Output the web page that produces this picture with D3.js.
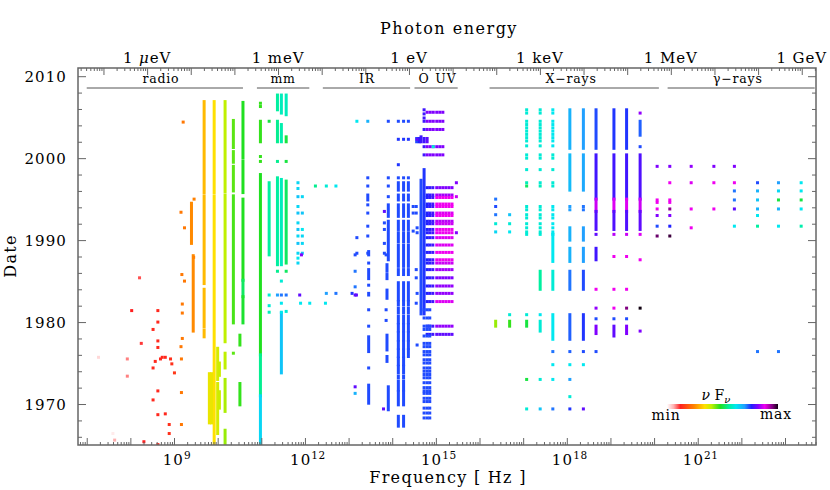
<!DOCTYPE html>
<html>
<head>
<meta charset="utf-8">
<script src="https://cdn.jsdelivr.net/npm/d3@7"></script>
<style>
  body { margin: 0; background: #fff; }
  text { font-family: "DejaVu Serif", serif; fill: #000; }
</style>
</head>
<body>
<svg id="chart" width="830" height="490"></svg>
<script>
// ---- data: [log10 frequency (Hz), year, nuFnu on the min..max colour scale] ----
// runs are densely sampled stretches: [log10 freq, first year, last year, nuFnu]

const radioPoints = [
  [9.21, 2004.4, .23], [9.46, 1995.0, .24], [9.16, 1993.4, .23], [9.24, 1991.5, .23], [9.45, 1987.9, .24],
  [9.18, 1985.8, .23], [9.24, 1985.0, .23], [9.19, 1982.2, .23], [9.19, 1981.1, .23], [9.19, 1978.0, .23],
  [9.16, 1977.0, .23], [9.17, 1975.5, .23], [9.17, 1971.4, .23], [9.17, 1967.5, .23],
  [8.21, 1985.4, .10], [8.03, 1981.4, .12], [8.63, 1981.4, .13], [8.63, 1980.0, .13], [8.52, 1979.1, .13],
  [8.25, 1977.4, .11], [8.63, 1977.7, .13], [8.63, 1976.9, .13], [7.27, 1975.7, .03], [7.93, 1975.5, .08],
  [8.73, 1975.7, .13], [8.80, 1975.7, .13], [8.69, 1975.5, .13], [8.57, 1975.2, .13], [8.92, 1975.5, .14],
  [8.95, 1974.9, .14], [8.52, 1974.4, .13], [9.01, 1973.8, .15], [7.93, 1973.4, .08], [8.63, 1971.6, .13],
  [8.52, 1970.5, .13], [8.63, 1968.7, .13], [8.80, 1968.8, .13], [8.89, 1967.5, .14], [8.89, 1966.4, .14],
  [7.64, 1965.6, .06], [8.31, 1965.4, .12], [8.63, 1965.05, .13], [7.60, 1966.4, .015],
  [10.36, 1976.2, .45]
];

const radioRuns = [
  [9.40, 1994.5, 1989.6, .25], [9.44, 1988.1, 1978.9, .25],
  [9.69, 2006.9, 1995.8, .30], [9.69, 1995.4, 1984.7, .30], [9.69, 1984.0, 1979.4, .30], [9.69, 1979.0, 1978.2, .30],
  [9.92, 2006.9, 1995.8, .34], [9.92, 1995.4, 1965.0, .34],
  [9.81, 1973.7, 1967.7, .36], [9.86, 1973.7, 1967.7, .36],
  [10.00, 1976.8, 1973.0, .38], [10.00, 1972.5, 1966.4, .38], [10.04, 1975.0, 1973.5, .39], [10.04, 1971.5, 1969.5, .39],
  [10.17, 2006.9, 1995.9, .40], [10.17, 1995.5, 1977.6, .40], [10.17, 1976.2, 1974.4, .40],
  [10.17, 1973.0, 1969.1, .41], [10.17, 1966.8, 1965.2, .42],
  [10.36, 2004.6, 2001.3, .45], [10.36, 2000.8, 1999.5, .45], [10.36, 1999.0, 1996.0, .45], [10.36, 1995.4, 1979.9, .46],
  [10.58, 2006.8, 2000.0, .48], [10.58, 1999.6, 1995.8, .48], [10.58, 1995.0, 1985.1, .48],
  [10.58, 1985.1, 1983.1, .52], [10.58, 1983.1, 1979.9, .49],
  [10.51, 1978.4, 1977.2, .47], [10.51, 1972.5, 1969.9, .47]
];

const mmRuns = [
  [10.98, 2004.5, 2002.0, .47], [10.98, 1998.0, 1976.0, .48], [10.98, 1976.0, 1971.0, .55], [10.98, 1971.0, 1965.0, .64],
  [11.18, 1997.0, 1988.2, .56],
  [11.37, 2007.7, 2005.9, .56], [11.37, 2004.5, 2002.0, .55], [11.37, 1997.6, 1987.0, .56],
  [11.46, 2007.7, 2005.5, .58], [11.46, 2004.1, 2002.0, .57], [11.46, 1997.4, 1987.0, .58], [11.46, 1981.1, 1973.8, .66],
  [11.57, 2007.7, 2005.3, .58], [11.57, 2002.6, 2002.0, .50], [11.57, 1997.2, 1987.2, .52]
];

const mmPoints = [
  [10.98, 2006.7, .47], [10.98, 2006.3, .47], [10.98, 2000.2, .47], [10.98, 1999.6, .47],
  [11.18, 2004.5, .50], [11.18, 1983.3, .60], [11.18, 1982.0, .60], [11.18, 1981.2, .58],
  [11.37, 1999.6, .55], [11.37, 1986.2, .55], [11.37, 1983.3, .70],
  [11.46, 1985.0, .60], [11.46, 1983.3, .72], [11.46, 1982.3, .62], [11.46, 1981.2, .62],
  [11.57, 1999.6, .50], [11.57, 1986.2, .52], [11.57, 1983.3, .72], [11.57, 1981.3, .60],
  [11.84, 1997.0, .64], [11.84, 1996.3, .64], [11.84, 1995.3, .66], [11.84, 1994.1, .64], [11.84, 1993.3, .66],
  [11.84, 1992.1, .64], [11.84, 1991.3, .66], [11.84, 1990.5, .64], [11.84, 1989.6, .66], [11.84, 1988.4, .64],
  [11.84, 1987.8, .62], [11.84, 1987.2, .64],
  [11.94, 1995.3, .64], [11.94, 1993.3, .66], [11.94, 1991.3, .62], [11.94, 1990.5, .64], [11.94, 1989.6, .64],
  [11.94, 1988.4, .66], [11.92, 1988.2, .82], [11.88, 1983.3, .80],
  [11.90, 1982.3, .62], [12.11, 1982.3, .62], [12.47, 1982.3, .62],
  [12.49, 1983.5, .70], [12.71, 1983.5, .72], [13.08, 1983.5, .75], [13.18, 1983.3, .80],
  [12.24, 1996.6, .55], [12.49, 1996.6, .60], [12.71, 1996.6, .62]
];

const irPoints = [
  [13.19, 2004.5, .62], [13.44, 2004.5, .68], [13.91, 2004.5, .74], [14.14, 2004.5, .74], [14.26, 2004.5, .74], [14.37, 2004.5, .74],
  [14.14, 2002.3, .75], [14.26, 2002.3, .75], [14.37, 2002.3, .75], [14.57, 2002.3, .80],
  [14.14, 1999.2, .75], [14.14, 1997.6, .74], [14.26, 1997.6, .74], [14.37, 1997.6, .74],
  [13.44, 1997.6, .74], [13.44, 1996.6, .74], [13.44, 1994.3, .74], [13.44, 1993.3, .74], [13.44, 1991.7, .74],
  [13.44, 1990.5, .74], [13.44, 1988.4, .74], [13.19, 1990.3, .74], [13.19, 1988.4, .74],
  [13.91, 1997.6, .74], [13.91, 1996.6, .74], [13.91, 1995.3, .74],
  [13.82, 1993.5, .80], [13.82, 1992.1, .74], [13.82, 1991.3, .74], [13.82, 1989.6, .74], [13.82, 1988.4, .74],
  [14.48, 1994.1, .74], [14.48, 1993.3, .74], [14.48, 1991.1, .74],
  [13.46, 1987.2, .74], [13.46, 1984.5, .74], [13.46, 1981.5, .74], [13.46, 1979.5, .74], [13.46, 1974.4, .74],
  [13.86, 1988.2, .74], [13.86, 1981.5, .74], [13.86, 1980.2, .74],
  [13.15, 1988.2, .74], [13.15, 1986.2, .72], [13.15, 1984.3, .72], [13.15, 1983.3, .80], [13.15, 1972.1, .80], [13.15, 1971.3, .68],
  [13.80, 1969.4, .80]
];

const irRuns = [
  [13.44, 1995.5, 1994.9, .74], [13.46, 1988.6, 1988.2, .74], [13.46, 1986.4, 1985.3, .74], [13.46, 1983.5, 1983.3, .74],
  [13.46, 1978.2, 1976.4, .74], [13.46, 1972.3, 1970.1, .74],
  [13.91, 1994.3, 1992.9, .74], [13.91, 1992.3, 1987.6, .74],
  [13.88, 1987.0, 1986.2, .74], [13.88, 1985.8, 1985.3, .74], [13.88, 1983.9, 1982.9, .74], [13.88, 1978.4, 1976.6, .74],
  [13.88, 1975.8, 1975.2, .74], [13.91, 1972.1, 1969.3, .74]
];

// near-IR monitoring: three bands sampled in the same campaigns
const irBandFreqs = [14.14, 14.26, 14.37];
const irBandLastYear = [1967.3, 1967.3, 1975.8];
const irCampaigns = [
  [1997.0, 1996.1], [1995.5, 1994.9], [1994.3, 1992.9], [1992.3, 1991.3], [1990.9, 1989.8], [1989.4, 1986.8],
  [1986.4, 1985.8], [1984.8, 1982.7], [1982.5, 1982.1], [1981.7, 1981.1], [1980.7, 1979.9], [1979.7, 1978.9],
  [1978.7, 1977.8], [1977.6, 1976.8], [1976.6, 1975.8], [1975.6, 1974.8], [1974.6, 1973.8], [1973.4, 1973.2],
  [1972.8, 1971.7], [1971.5, 1969.9], [1968.5, 1967.3]
];

const optRuns = [
  [14.66, 1997.3, 1981.0, .74], [14.73, 1998.6, 1981.0, .75],
  [14.56, 2002.4, 2002.0, .74], [14.62, 2002.4, 2002.0, .76], [14.66, 2002.6, 2002.0, .78],
  [14.73, 2002.4, 2002.0, .78], [14.80, 2002.4, 2002.0, .80]
];

const optPoints = [
  [14.73, 2005.9, .78], [14.73, 2005.4, .78], [14.73, 2004.9, .78], [14.73, 2004.5, .78], [14.73, 2003.5, .78],
  [14.73, 2001.4, .78], [14.73, 2000.4, .78],
  [14.55, 1994.1, .74], [14.55, 1993.3, .74], [14.57, 1991.5, .74], [14.57, 1990.9, .74], [14.55, 1986.4, .74],
  [14.55, 1985.4, .74], [14.57, 1983.5, .74], [14.55, 1982.3, .74], [14.57, 1977.2, .74],
  [15.47, 1997.0, .82], [15.47, 1995.3, .86], [15.47, 1990.9, .82]
];

// optical + UV epochs (rows across the bands)
const optRowFreqs = [14.80, 14.86, 14.93];
const uvFreqs = [15.02, 15.09, 15.16, 15.23, 15.30, 15.37];
const uvYears = [1996.4, 1995.5, 1995.2, 1994.4, 1994.1, 1993.3, 1993.0, 1992.3, 1992.0, 1991.3, 1990.9,
  1990.3, 1989.4, 1988.5, 1987.6, 1987.2, 1986.4, 1985.4, 1984.4, 1983.5, 1982.5, 1979.5, 1978.5];
const uvLevel = [.82, .84, .88, .88, .88, .87, .88, .85, .86, .88, .88,
  .87, .87, .88, .88, .86, .84, .82, .83, .83, .87, .83, .80];
const uvTopFreqs = [14.80, 14.87, 14.94, 15.02, 15.09, 15.16];
const uvTopYears = [2005.6, 2004.5, 2003.5, 2001.4, 2000.4];
const optLowFreqs = [14.73, 14.80, 14.86];
const optLowYears = [1981.5, 1980.5, 1979.5, 1979.1, 1978.3, 1977.4, 1977.0, 1976.4, 1976.0, 1975.4, 1975.0,
  1974.4, 1974.0, 1973.6, 1973.2, 1972.6, 1972.0, 1971.6, 1971.3, 1970.7, 1970.3, 1969.5, 1968.9, 1968.3];

// soft X-ray monitoring epochs (three bands)
const softXFreqs = [17.08, 17.39, 17.68];
const softXLevel = [.60, .60, .62];
const softXYears = [2005.9, 2005.5, 2004.5, 2004.1, 2003.7, 2003.3, 2002.9, 2002.5, 2002.1, 2001.5,
  1994.1, 1993.7, 1993.1, 1992.7, 1992.0, 1991.5, 1991.0, 1990.7];

const xrayRuns = [
  [17.68, 1990.7, 1987.4, .62],
  [17.39, 1986.2, 1984.0, .56], [17.68, 1986.2, 1984.0, .60],
  [17.68, 1980.9, 1977.9, .62], [17.39, 1980.1, 1978.9, .60], [17.08, 1980.1, 1979.5, .50],
  [16.37, 1980.1, 1979.5, .42], [16.69, 1980.1, 1979.5, .47],
  [18.07, 2005.9, 2001.2, .68], [18.38, 2005.9, 2001.2, .70],
  [18.07, 2000.4, 1996.1, .67], [18.38, 2000.4, 1996.1, .69],
  [18.07, 1991.5, 1990.0, .68], [18.38, 1991.5, 1990.0, .70],
  [18.07, 1989.0, 1987.4, .68], [18.38, 1989.0, 1987.4, .70],
  [18.07, 1986.2, 1984.0, .72], [18.38, 1986.2, 1984.0, .74],
  [18.07, 1980.9, 1977.9, .73], [18.38, 1980.9, 1977.9, .75],
  [18.67, 2005.9, 2001.2, .74], [19.08, 2005.9, 2001.2, .75], [19.37, 2005.9, 2001.2, .75],
  [18.67, 2000.4, 1995.0, .78], [18.67, 1995.0, 1993.5, .86], [18.67, 1993.5, 1991.3, .79],
  [19.08, 2000.4, 1995.0, .78], [19.08, 1995.0, 1993.5, .87], [19.08, 1993.5, 1991.3, .79],
  [19.37, 2000.4, 1995.0, .78], [19.37, 1995.0, 1993.5, .87], [19.37, 1993.5, 1991.3, .79],
  [19.68, 2004.5, 2002.8, .73], [19.68, 2000.4, 1995.0, .79], [19.68, 1995.0, 1993.5, .86], [19.68, 1993.5, 1991.3, .80],
  [18.67, 1989.0, 1987.6, .78],
  [18.67, 1979.5, 1978.6, .82], [19.08, 1979.5, 1978.3, .80], [19.37, 1979.5, 1978.6, .82]
];

const xrayPoints = [
  [17.08, 2000.4, .60], [17.39, 2000.4, .60], [17.68, 2000.4, .60], [17.08, 2000.0, .60], [17.39, 2000.0, .60], [17.68, 2000.0, .60],
  [17.08, 1998.6, .60], [17.39, 1998.6, .60], [17.68, 1998.6, .60],
  [17.08, 1997.0, .58], [17.39, 1997.0, .60], [17.68, 1997.0, .60], [17.08, 1996.6, .52], [17.39, 1996.6, .58], [17.68, 1996.6, .60],
  [16.37, 1995.0, .72], [16.37, 1994.1, .74], [16.37, 1993.1, .72], [16.37, 1992.0, .60], [16.37, 1991.0, .64],
  [16.69, 1993.1, .66], [16.69, 1992.0, .60], [16.69, 1991.0, .62],
  [18.07, 1994.1, .70], [18.38, 1994.1, .72], [18.07, 1993.7, .70], [18.38, 1993.7, .72],
  [18.67, 1990.7, .80], [19.08, 1990.7, .85], [19.37, 1990.7, .86], [19.68, 1990.7, .87],
  [19.08, 1988.0, .88], [19.37, 1988.0, .88], [19.68, 1987.6, .88],
  [18.67, 1984.0, .88], [19.08, 1984.0, .88], [19.37, 1984.0, .88],
  [18.67, 1981.7, .83], [19.08, 1981.7, .88], [19.37, 1981.7, .95], [19.68, 1981.7, 1.0],
  [18.67, 1980.4, .74], [19.08, 1980.4, .74], [19.37, 1980.4, .74], [19.68, 1978.9, .82],
  [16.69, 1980.9, .60], [17.08, 1980.9, .60], [17.39, 1980.9, .62],
  [17.68, 1976.4, .72], [18.07, 1976.4, .73], [18.38, 1976.4, .74], [18.67, 1976.4, .74],
  [17.68, 1974.8, .62], [18.07, 1974.8, .62], [18.38, 1974.8, .62],
  [17.08, 1973.0, .50], [17.39, 1973.0, .60], [17.68, 1973.0, .62], [18.07, 1973.0, .70],
  [18.07, 1970.9, .60],
  [17.08, 1969.4, .60], [17.39, 1969.4, .66], [17.68, 1969.4, .72], [18.07, 1969.4, .75], [18.38, 1969.4, .80],
  [19.68, 2005.5, .83], [19.68, 2001.4, .74]
];

const gammaPoints = [
  [20.07, 1999.0, .82], [20.07, 1994.9, .88], [20.07, 1994.6, .88], [20.07, 1993.8, .88], [20.07, 1993.0, .82], [20.07, 1991.7, .74], [20.07, 1990.5, .96],
  [20.36, 1999.0, .82], [20.36, 1997.0, .88], [20.36, 1994.9, .88], [20.36, 1994.6, .88], [20.36, 1993.8, .94], [20.36, 1993.0, .82], [20.36, 1991.7, .76], [20.36, 1990.5, .98],
  [20.85, 1999.0, .83], [20.85, 1997.0, .87], [20.85, 1993.8, .88], [20.85, 1991.5, .88],
  [21.37, 1999.0, .82], [21.37, 1997.0, .88], [21.37, 1993.8, .88],
  [21.84, 1999.0, .82], [21.84, 1997.0, .88], [21.84, 1996.0, .72], [21.84, 1994.9, .72], [21.84, 1993.8, .80], [21.84, 1991.7, .62],
  [22.37, 1997.0, .74], [22.37, 1996.0, .68], [22.37, 1994.9, .66], [22.37, 1993.8, .68], [22.37, 1993.0, .62], [22.37, 1991.7, .56], [22.37, 1976.4, .72],
  [22.85, 1997.0, .70], [22.85, 1996.0, .64], [22.85, 1994.9, .50], [22.85, 1993.8, .68], [22.85, 1991.7, .62], [22.85, 1976.4, .72],
  [23.37, 1997.0, .62], [23.37, 1996.0, .62], [23.37, 1994.9, .50], [23.37, 1993.8, .62], [23.37, 1991.7, .57]
];

// spectral bands along the top (log10 Hz)
const bandLo = [7.00, 10.90, 12.41, 14.51, 16.23, 20.31];
const bandHi = [10.58, 12.10, 14.41, 15.50, 20.11, 23.68];
const bandNames = ['radio', 'mm', 'IR', 'O', 'UV', 'X\u2212rays', '\u03b3\u2212rays'];
const bandNameAt = [8.70, 11.50, 13.42, 14.73, 15.23, 18.10, 21.92];

// axis labels
const freqLabelExps = [9, 12, 15, 18, 21];
const energyTickValues = [1e-6, 1e-3, 1, 1e3, 1e6, 1e9];
const energyTickPrefixes = ['\u03bc', 'm', '', 'k', 'M', 'G'];
const yearLabels = [1970, 1980, 1990, 2000, 2010];

// colour bar min -> max
const colorStops = [0, .06, .12, .24, .34, .40, .48, .56, .62, .70, .76, .82, .88, .95, 1];
const colorValues = ['#ffffff', '#ffb0b0', '#ff2020', '#ff8000', '#ffe000', '#c0f000', '#20e020', '#00f0a0',
  '#00e8f0', '#20a0ff', '#2020ff', '#8000ff', '#f000f0', '#800080', '#100010'];

// ---- drawing ----
const svg = d3.select('#chart');
const pl = 78, pr = 816, pt = 68, pb = 445;

const x = d3.scaleLog().domain([10 ** 6.8, 10 ** 23.71]).range([pl, pr]);
const y = d3.scaleLinear().domain([1965, 2011]).range([pb, pt]);
const HZ_PER_EV = 2.418e14;
const xE = d3.scaleLog().domain(x.domain().map(d => d / HZ_PER_EV)).range([pl, pr]);
const color = d3.scaleLinear().domain(colorStops).range(colorValues).clamp(true);

const defs = svg.append('defs');
defs.append('clipPath').attr('id', 'plotclip')
  .append('rect').attr('x', pl).attr('y', pt).attr('width', pr - pl).attr('height', pb - pt);

// collect every mark as a vertical stretch (points have first == last)
const marks = [];
const addRun = ([f, a, b, c]) => marks.push({ f, a, b, c });
const addPt = ([f, t, c]) => marks.push({ f, a: t, b: t, c });

[radioRuns, mmRuns, irRuns, optRuns, xrayRuns].forEach(arr => arr.forEach(addRun));
irBandFreqs.forEach((f, i) => irCampaigns.forEach(([a, b]) => {
  if (b >= irBandLastYear[i]) addRun([f, a, b, .74]);
}));
softXFreqs.forEach((f, i) => softXYears.forEach(t => addPt([f, t, softXLevel[i]])));
uvYears.forEach((t, i) => {
  optRowFreqs.forEach((f, j) => addPt([f, t, .76 + j * .01]));
  uvFreqs.forEach(f => addPt([f, t, uvLevel[i]]));
});
uvTopYears.forEach(t => uvTopFreqs.forEach(f => addPt([f, t, .82])));
optLowYears.forEach(t => optLowFreqs.forEach(f => addPt([f, t, .74])));
[radioPoints, mmPoints, irPoints, optPoints, xrayPoints, gammaPoints].forEach(arr => arr.forEach(addPt));
addPt([14.94, 2001.4, .60]);

svg.append('g').attr('clip-path', 'url(#plotclip)')
  .selectAll('rect')
  .data(marks)
  .join('rect')
  .attr('x', d => x(10 ** d.f) - 1.5)
  .attr('y', d => y(d.a) - 1.5)
  .attr('width', 3)
  .attr('height', d => y(d.b) - y(d.a) + 3)
  .attr('fill', d => color(d.c));

// frequency ticks (bottom)
const fMajor = [], fMinor = [];
for (let d = 6; d <= 23; d++) {
  for (let k = 1; k < 10; k++) {
    const v = k * 10 ** d;
    if (v >= x.domain()[0] && v <= x.domain()[1]) (k === 1 ? fMajor : fMinor).push(v);
  }
}
const noDomain = g => g.select('.domain').remove();
svg.append('g').attr('transform', `translate(0,${pb})`)
  .call(d3.axisBottom(x).tickValues(fMinor).tickSize(-3).tickFormat('')).call(noDomain);
svg.append('g').attr('transform', `translate(0,${pb})`)
  .call(d3.axisBottom(x).tickValues(fMajor).tickSize(-7).tickFormat('')).call(noDomain);

// energy ticks (top)
const eMajor = [], eMinor = [];
for (let d = -8; d <= 9; d++) {
  for (let k = 1; k < 10; k++) {
    const v = k * 10 ** d;
    if (v >= xE.domain()[0] && v <= xE.domain()[1]) (k === 1 ? eMajor : eMinor).push(v);
  }
}
svg.append('g').attr('transform', `translate(0,${pt})`)
  .call(d3.axisTop(xE).tickValues(eMinor).tickSize(-3).tickFormat('')).call(noDomain);
svg.append('g').attr('transform', `translate(0,${pt})`)
  .call(d3.axisTop(xE).tickValues(eMajor).tickSize(-7).tickFormat('')).call(noDomain);

// year ticks (left and right)
const yMinor = d3.range(1966, 2011, 2).filter(v => v % 10 !== 0);
[[d3.axisLeft, pl], [d3.axisRight, pr]].forEach(([ax, pos]) => {
  svg.append('g').attr('transform', `translate(${pos},0)`)
    .call(ax(y).tickValues(yMinor).tickSize(-4).tickFormat('')).call(noDomain);
  svg.append('g').attr('transform', `translate(${pos},0)`)
    .call(ax(y).tickValues(yearLabels).tickSize(-8).tickFormat('')).call(noDomain);
});

svg.selectAll('.tick line').attr('stroke', '#666').attr('stroke-width', 1);

svg.append('rect')
  .attr('x', pl).attr('y', pt).attr('width', pr - pl).attr('height', pb - pt)
  .attr('fill', 'none').attr('stroke', '#666').attr('stroke-width', 1.5);

// tick labels
yearLabels.forEach(v => {
  svg.append('text').attr('x', pl - 11).attr('y', y(v) + 5.5).attr('text-anchor', 'end')
    .style('font-size', '15px').style('letter-spacing', '1.1px').text(v);
});
freqLabelExps.forEach(e => {
  const t = svg.append('text').attr('x', x(10 ** e) + 3).attr('y', 465).attr('text-anchor', 'middle')
    .style('font-size', '15px').style('letter-spacing', '1.1px');
  t.append('tspan').text('10');
  t.append('tspan').attr('dy', -6).style('font-size', '10.5px').style('letter-spacing', '0.6px').text(e);
});
energyTickValues.forEach((v, i) => {
  const t = svg.append('text').attr('x', xE(v)).attr('y', 63).attr('text-anchor', 'middle')
    .style('font-size', '15px').style('letter-spacing', '0.9px');
  t.append('tspan').text('1 ');
  if (energyTickPrefixes[i] === '\u03bc') t.append('tspan').style('font-style', 'italic').text('\u03bc');
  else t.append('tspan').text(energyTickPrefixes[i]);
  t.append('tspan').text('eV');
});

// axis titles
svg.append('text').attr('x', 449).attr('y', 34).attr('text-anchor', 'middle')
  .style('font-size', '16px').style('letter-spacing', '1.5px').text('Photon energy');
svg.append('text').attr('x', 448).attr('y', 483).attr('text-anchor', 'middle')
  .style('font-size', '16px').style('letter-spacing', '1.3px').text('Frequency [ Hz ]');
svg.append('text').attr('transform', 'translate(16,256) rotate(-90)').attr('text-anchor', 'middle')
  .style('font-size', '16px').style('letter-spacing', '1.3px').text('Date');

// band bars along the top
bandLo.forEach((lo, i) => {
  svg.append('line')
    .attr('x1', x(10 ** lo)).attr('x2', x(10 ** bandHi[i]))
    .attr('y1', 88).attr('y2', 88).attr('stroke', '#555').attr('stroke-width', 1);
});
bandNames.forEach((n, i) => {
  svg.append('text').attr('x', x(10 ** bandNameAt[i])).attr('y', 83).attr('text-anchor', 'middle')
    .style('font-size', '12.5px').style('letter-spacing', '0.8px')
    .text(n);
});

// colour bar legend
const grad = defs.append('linearGradient').attr('id', 'nufnu');
colorStops.forEach((s, i) => grad.append('stop').attr('offset', s).attr('stop-color', colorValues[i]));
svg.append('rect').attr('x', 667).attr('y', 404).attr('width', 111).attr('height', 5).attr('fill', 'url(#nufnu)');
const nl = svg.append('text').attr('x', 716).attr('y', 400).attr('text-anchor', 'middle').style('font-size', '14px');
nl.append('tspan').style('font-style', 'italic').text('\u03bd');
nl.append('tspan').text(' F');
nl.append('tspan').attr('dy', 3).style('font-size', '10px').style('font-style', 'italic').text('\u03bd');
svg.append('text').attr('x', 666).attr('y', 420).attr('text-anchor', 'middle')
  .style('font-size', '14px').style('letter-spacing', '0.8px').text('min');
svg.append('text').attr('x', 776).attr('y', 419).attr('text-anchor', 'middle')
  .style('font-size', '14px').style('letter-spacing', '0.8px').text('max');
</script>
</body>
</html>
